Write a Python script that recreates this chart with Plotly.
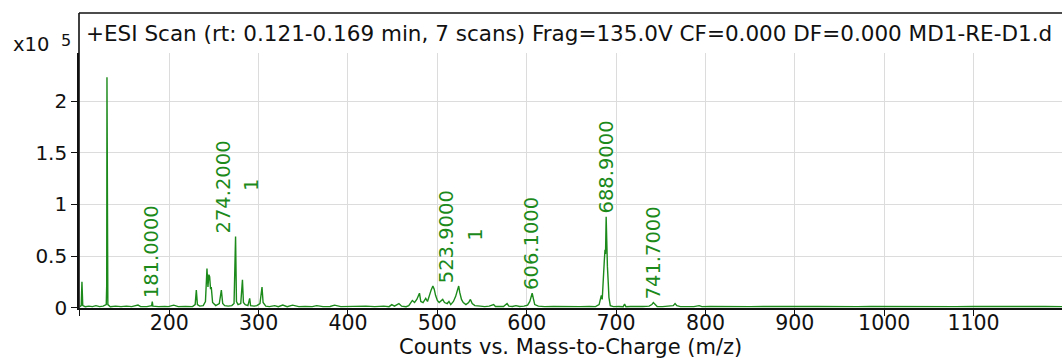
import plotly.graph_objects as go

# ---- data (intensity in units of x10^5 counts) ----
mz = [100, 101.5, 102.3, 103.2, 106, 110, 114, 118, 122, 126, 129.5, 130.0, 130.3, 130.7, 131.3,
      134, 140, 146, 152, 158, 165, 168, 175, 180.3, 181.0, 181.7, 188, 195, 199, 205, 210, 218,
      226, 229, 230.3, 231.5, 234, 238, 240.5, 242.2, 243.3, 244.3, 245.2, 246.2, 247, 248.5,
      252, 256, 258.3, 259.8, 262, 266, 270, 272.5, 274.2, 275.2, 277, 280, 281.9, 283, 285, 288,
      290, 291, 295, 298, 301.5, 303.8, 305, 308, 312, 318, 322, 327, 332, 338, 345, 352, 360,
      365, 372, 380, 385, 392, 400, 410, 420, 430, 440, 446, 449, 452, 457, 460, 465, 468, 472,
      474.5, 477, 480, 481.5, 484, 487, 489, 491, 493, 495, 496.5, 498, 500, 502, 504, 506, 508,
      511, 513, 515, 518, 520.5, 522.5, 523.9, 525, 527, 529, 532, 535, 537, 539, 542, 548, 553,
      558, 563, 565, 570, 574, 578, 580, 584, 588, 592, 597, 601, 603.5, 606.1, 607.5, 609, 613,
      620, 630, 640, 650, 660, 670, 677, 681, 683.5, 684.5, 685.5, 686.8, 687.6, 688.2, 688.9,
      689.5, 690.3, 691.2, 692, 693.5, 697, 703, 708, 709.5, 711, 716, 722, 730, 737, 740, 741.7,
      743.5, 746, 752, 760, 764, 766, 768, 772, 780, 787, 793, 796, 805, 820, 835, 850, 865, 880,
      895, 910, 925, 940, 955, 970, 985, 1000, 1020, 1040, 1060, 1080, 1100, 1120, 1140, 1160,
      1180, 1200]
intensity = [0.01, 0.02, 0.25, 0.02, 0.01, 0.015, 0.01, 0.02, 0.01, 0.015, 0.03, 0.22, 2.23, 0.25, 0.03,
             0.01, 0.015, 0.01, 0.015, 0.01, 0.025, 0.01, 0.01, 0.02, 0.06, 0.015, 0.01, 0.012, 0.01, 0.025, 0.01, 0.012,
             0.01, 0.03, 0.17, 0.03, 0.015, 0.02, 0.06, 0.38, 0.2, 0.32, 0.30, 0.18, 0.2, 0.05,
             0.02, 0.04, 0.17, 0.04, 0.02, 0.015, 0.02, 0.04, 0.69, 0.06, 0.03, 0.04, 0.27, 0.05, 0.03, 0.02,
             0.09, 0.02, 0.015, 0.02, 0.04, 0.2, 0.05, 0.015, 0.01, 0.02, 0.01, 0.025, 0.01, 0.025, 0.01, 0.012, 0.01,
             0.02, 0.01, 0.012, 0.025, 0.01, 0.012, 0.01, 0.015, 0.01, 0.015, 0.01, 0.03, 0.015, 0.04, 0.015, 0.01, 0.02, 0.07,
             0.05, 0.08, 0.14, 0.06, 0.05, 0.09, 0.06, 0.12, 0.17, 0.21, 0.18, 0.12, 0.07, 0.05, 0.07, 0.08, 0.05,
             0.04, 0.06, 0.03, 0.06, 0.11, 0.17, 0.21, 0.15, 0.08, 0.05, 0.03, 0.05, 0.08, 0.04, 0.02, 0.015, 0.01,
             0.015, 0.03, 0.012, 0.01, 0.012, 0.04, 0.015, 0.012, 0.02, 0.012, 0.015, 0.025, 0.06, 0.14, 0.08, 0.03, 0.015,
             0.01, 0.012, 0.01, 0.012, 0.01, 0.012, 0.01, 0.03, 0.12, 0.08, 0.2, 0.45, 0.56, 0.52, 0.88,
             0.56, 0.4, 0.25, 0.1, 0.02, 0.01, 0.012, 0.01, 0.035, 0.01, 0.012, 0.01, 0.012, 0.015, 0.03, 0.05,
             0.03, 0.012, 0.01, 0.012, 0.02, 0.04, 0.02, 0.01, 0.012, 0.01, 0.02, 0.01, 0.012, 0.01, 0.013, 0.01, 0.012, 0.01,
             0.014, 0.011, 0.013, 0.01, 0.012, 0.01, 0.011, 0.01, 0.012, 0.01, 0.011, 0.01, 0.012, 0.01, 0.011, 0.01,
             0.011, 0.01]

label_mz = [181.0, 274.2, 523.9, 606.1, 688.9, 741.7]
label_charge = ["", "1", "1", "", "", ""]

x_ticks = [100, 200, 300, 400, 500, 600, 700, 800, 900, 1000, 1100]
x_ticktext = ["", "200", "300", "400", "500", "600", "700", "800", "900", "1000", "1100"]
y_ticks = [0, 0.5, 1, 1.5, 2]
y_ticktext = ["0", "0.5", "1", "1.5", "2"]

title_text = "+ESI Scan (rt: 0.121-0.169 min, 7 scans) Frag=135.0V CF=0.000 DF=0.000 MD1-RE-D1.d"
x_title = "Counts vs. Mass-to-Charge (m/z)"

GREEN = "#1b8a1b"
FONT = "DejaVu Sans"
INK = "#111"
X_RANGE = [99, 1199]

fig = go.Figure()
fig.add_trace(go.Scatter(x=mz, y=intensity, mode="lines",
                         line=dict(color=GREEN, width=1.4), hoverinfo="skip"))
# empty trace that makes the label-only overlay axis render
fig.add_trace(go.Scatter(x=[], y=[], xaxis="x2", yaxis="y", mode="lines",
                         hoverinfo="skip", showlegend=False))


def peak_height(m):
    best = 0
    for xv, yv in zip(mz, intensity):
        if abs(xv - m) <= 1.0 and yv > best:
            best = yv
    return best


annotations = []
for m, ch in zip(label_mz, label_charge):
    h = peak_height(m)
    annotations.append(dict(x=m, y=h, xref="x", yref="y", text=f"{m:.4f}", showarrow=False,
                            textangle=-90, xanchor="center", yanchor="bottom",
                            xshift=-12 if ch else 0, yshift=1,
                            font=dict(family=FONT, size=19.5, color=GREEN)))
    if ch:
        annotations.append(dict(x=m, y=h, xref="x", yref="y", text=ch, showarrow=False,
                                textangle=-90, xanchor="center", yanchor="middle",
                                xshift=16, yshift=51,
                                font=dict(family=FONT, size=19.5, color=GREEN)))

annotations.append(dict(x=0, y=1, xref="paper", yref="paper", text=title_text, showarrow=False,
                        xanchor="left", yanchor="middle", xshift=5, yshift=20,
                        font=dict(family=FONT, size=21.5, color=INK)))
annotations.append(dict(x=0, y=1, xref="paper", yref="paper", text="x10", showarrow=False,
                        xanchor="right", yanchor="middle", xshift=-28, yshift=9,
                        font=dict(family=FONT, size=19.5, color=INK)))
annotations.append(dict(x=0, y=1, xref="paper", yref="paper", text="5", showarrow=False,
                        xanchor="left", yanchor="middle", xshift=-20, yshift=13,
                        font=dict(family=FONT, size=16, color=INK)))
annotations.append(dict(x=0.5, y=0, xref="paper", yref="paper", text=x_title, showarrow=False,
                        xanchor="center", yanchor="middle", yshift=-39,
                        font=dict(family=FONT, size=21, color=INK)))

fig.update_layout(
    width=1062, height=358,
    margin=dict(l=79, r=0, t=53, b=50),
    paper_bgcolor="white", plot_bgcolor="white",
    showlegend=False,
    annotations=annotations,
    shapes=[
        dict(type="line", xref="paper", yref="paper", x0=0, x1=1, y0=1.157, y1=1.157,
             line=dict(color=INK, width=1.6)),
        dict(type="line", xref="paper", yref="paper", x0=0, x1=0, y0=0, y1=1.157,
             line=dict(color=INK, width=1.6)),
    ],
    # main x axis: grid, axis line and tick marks
    xaxis=dict(range=X_RANGE, tickvals=x_ticks, showticklabels=False,
               showgrid=True, gridcolor="#dcdcdc", gridwidth=1,
               showline=True, linecolor=INK, linewidth=1.8,
               ticks="outside", ticklen=6, tickcolor=INK, tickwidth=1.2,
               zeroline=False, fixedrange=True),
    # overlay x axis: tick labels only, placed close to the axis
    xaxis2=dict(range=X_RANGE, overlaying="x", side="bottom", anchor="y",
                tickmode="array", tickvals=x_ticks, ticktext=x_ticktext, ticks="",
                showticklabels=True, showgrid=False,
                showline=False, zeroline=False, fixedrange=True,
                tickfont=dict(family=FONT, size=20.5, color=INK)),
    yaxis=dict(range=[-0.003, 2.466], tickvals=y_ticks, ticktext=y_ticktext,
               showgrid=True, gridcolor="#dcdcdc", gridwidth=1,
               showline=True, linecolor=INK, linewidth=1.6,
               ticks="outside", ticklen=6, tickcolor=INK, tickwidth=1.2,
               tickfont=dict(family=FONT, size=20, color=INK),
               zeroline=False, fixedrange=True),
)

fig.write_html("out.html", config=dict(displayModeBar=False))
